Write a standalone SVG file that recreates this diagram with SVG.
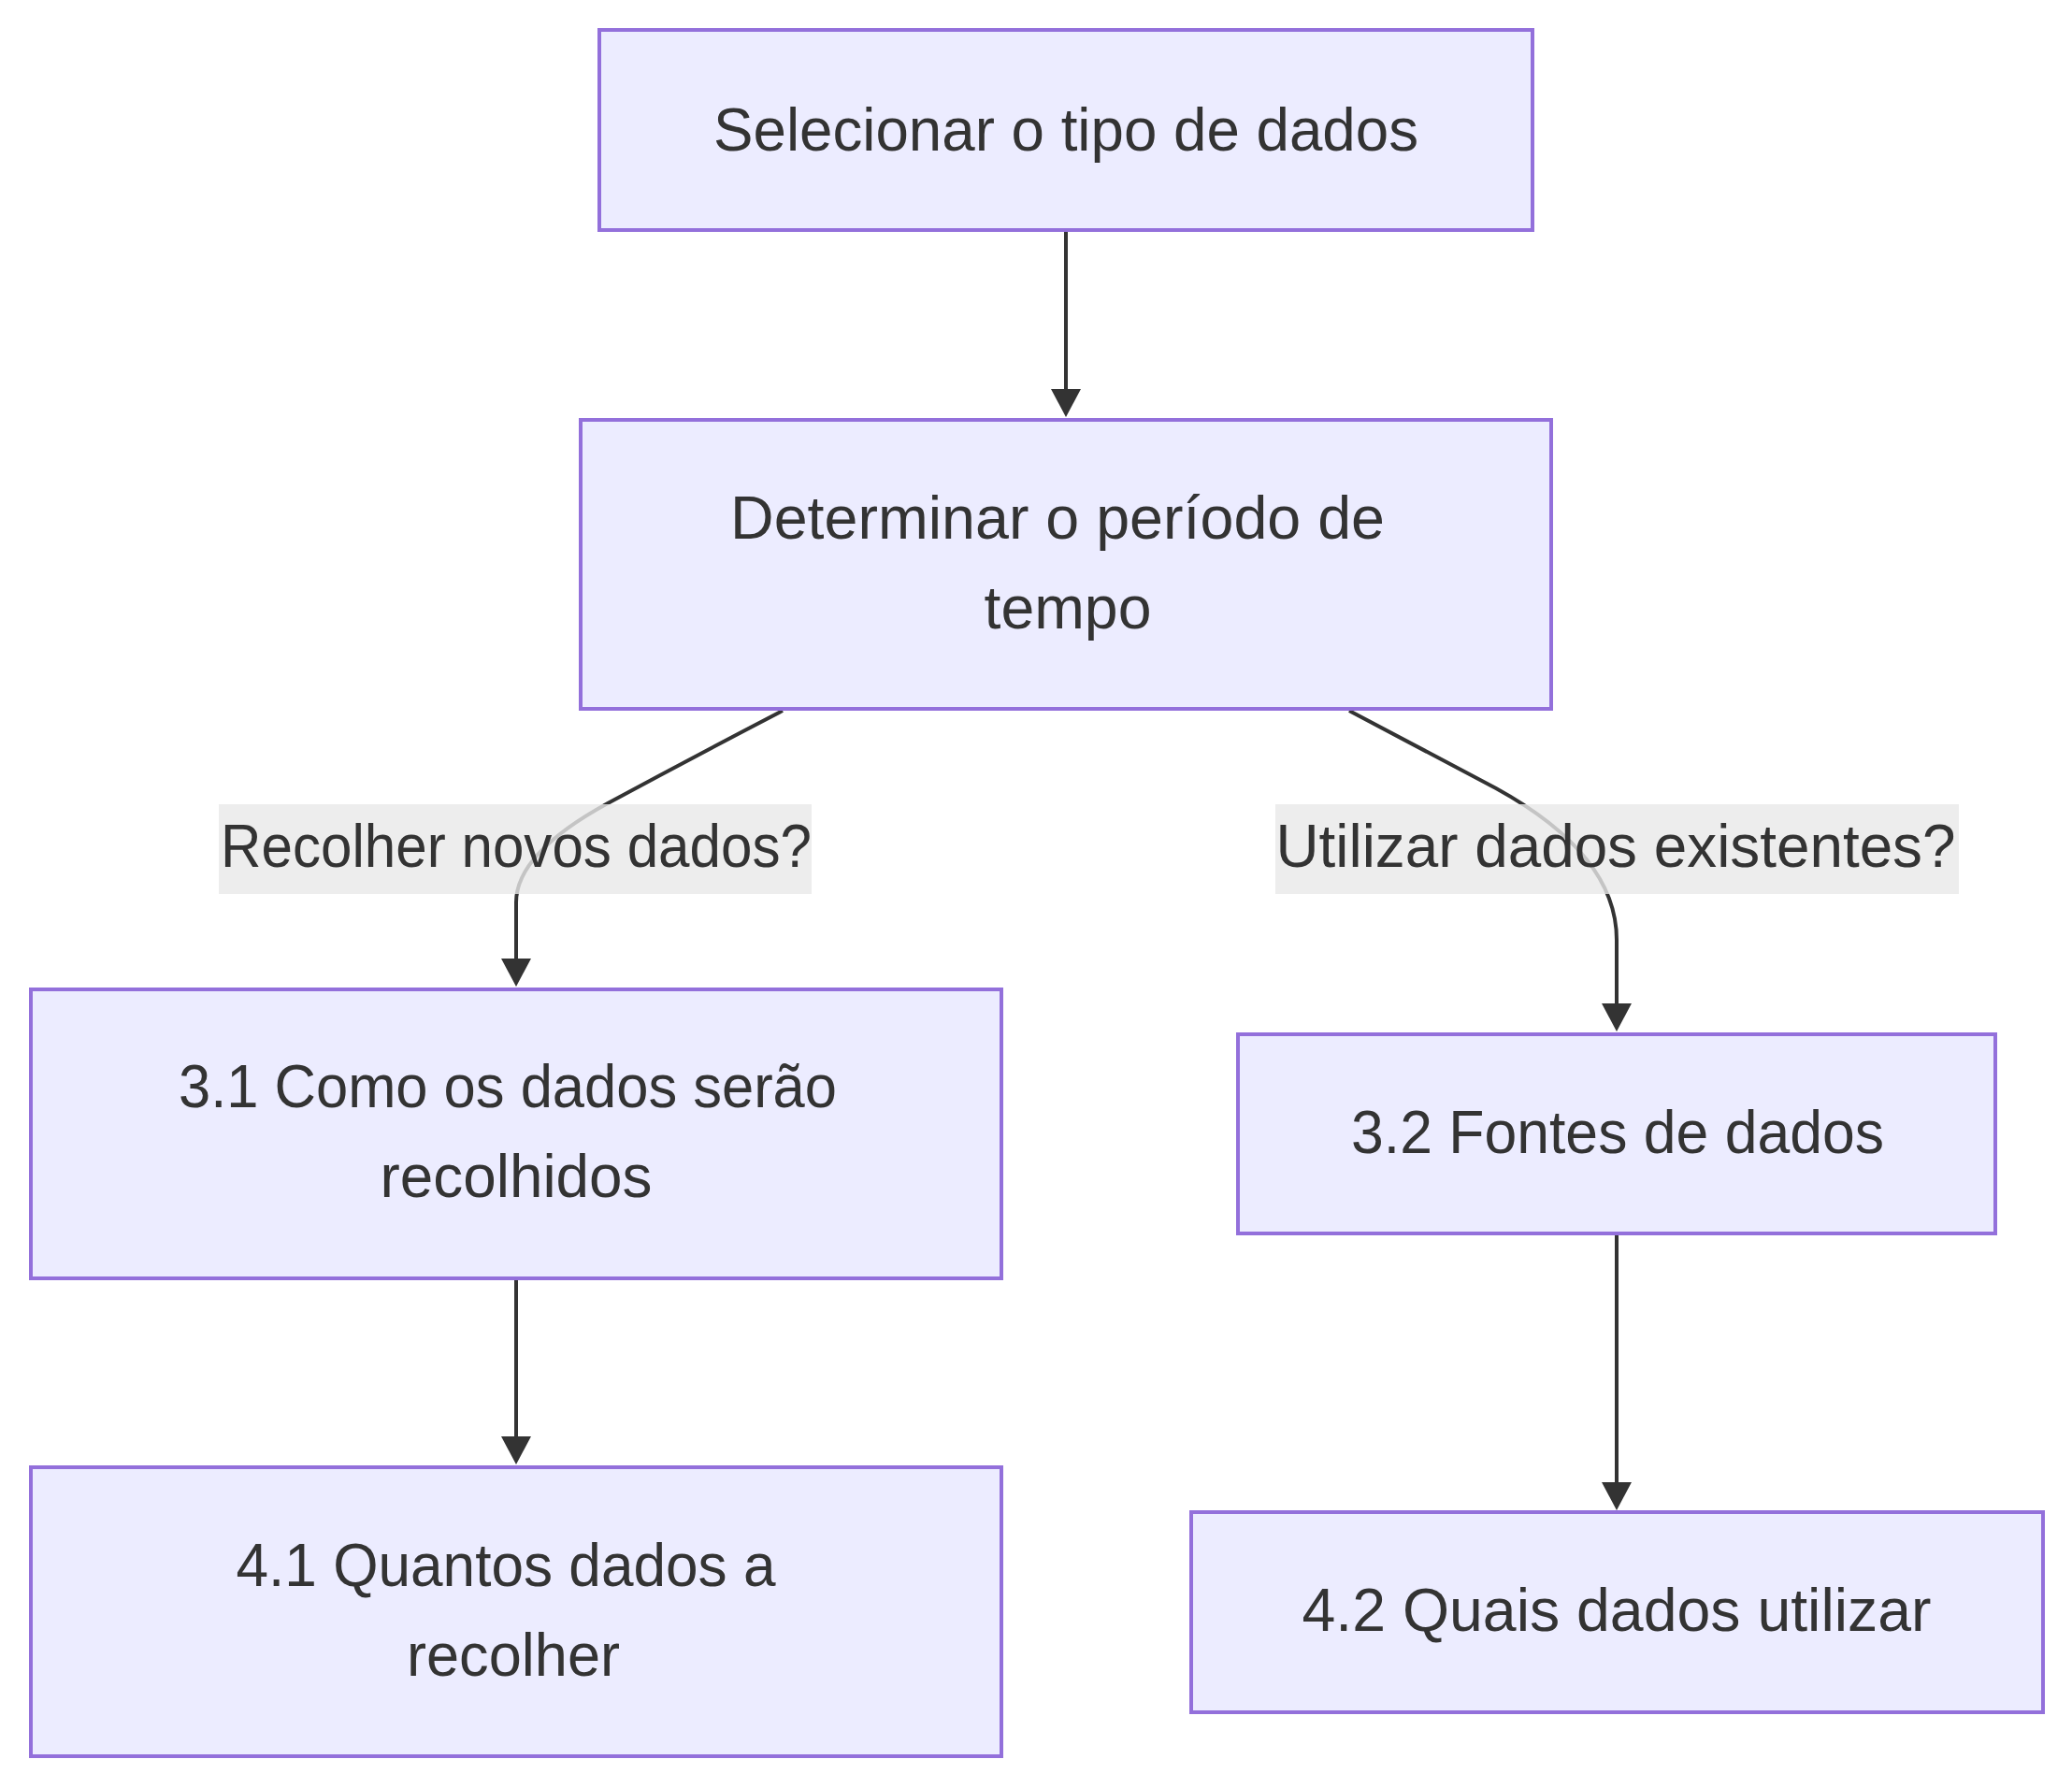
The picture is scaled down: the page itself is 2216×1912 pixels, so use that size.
<svg xmlns="http://www.w3.org/2000/svg" width="2216" height="1912" viewBox="0 0 2216 1912">
<style>
.node rect{fill:#ECECFF;stroke:#9370DB;stroke-width:4}
.t{font-family:"Liberation Sans",Arial,sans-serif;font-size:64px;fill:#333333;text-anchor:middle}
.edge{fill:none;stroke:#333333;stroke-width:4}
.lbl rect{fill:#e8e8e8;fill-opacity:0.8}
</style>
<defs>
<marker id="arrow" viewBox="0 0 30 32" markerUnits="userSpaceOnUse" markerWidth="30" markerHeight="32" refX="10" refY="16" orient="auto">
<path d="M0,0 L30,16 L0,32 z" fill="#333333"/>
</marker>
</defs>
<rect width="2216" height="1912" fill="#ffffff"/>
<g id="connectors">
<path class="edge" d="M1140,248 L1140,426" marker-end="url(#arrow)"/>
<path class="edge" d="M837,760 C760,800 700,832 650,859 C595,889 552,925 552,965 L552,1035" marker-end="url(#arrow)"/>
<path class="edge" d="M1443,760 L1600,843 C1680,887 1729,940 1729,1005 L1729,1083" marker-end="url(#arrow)"/>
<path class="edge" d="M552,1368 L552,1546" marker-end="url(#arrow)"/>
<path class="edge" d="M1729,1321 L1729,1595" marker-end="url(#arrow)"/>
</g>
<g id="edge-labels">
<g id="label-novos" class="lbl">
<rect x="234" y="860" width="634" height="96"/>
<text class="t" x="552" y="927" textLength="632" lengthAdjust="spacingAndGlyphs">Recolher novos dados?</text>
</g>
<g id="label-existentes" class="lbl">
<rect x="1364" y="860" width="731" height="96"/>
<text class="t" x="1728" y="927" textLength="727" lengthAdjust="spacingAndGlyphs">Utilizar dados existentes?</text>
</g>
</g>
<g id="node-selecionar" class="node">
<rect x="641" y="32" width="998" height="214"/>
<text class="t" x="1140" y="161" textLength="754" lengthAdjust="spacingAndGlyphs">Selecionar o tipo de dados</text>
</g>
<g id="node-determinar" class="node">
<rect x="621" y="449" width="1038" height="309"/>
<text class="t" x="1131" y="576" textLength="700" lengthAdjust="spacingAndGlyphs">Determinar o período de</text>
<text class="t" x="1142" y="672" textLength="179" lengthAdjust="spacingAndGlyphs">tempo</text>
</g>
<g id="node-3-1" class="node">
<rect x="33" y="1058" width="1038" height="309"/>
<text class="t" x="543" y="1184" textLength="704" lengthAdjust="spacingAndGlyphs">3.1 Como os dados serão</text>
<text class="t" x="552" y="1280" textLength="291" lengthAdjust="spacingAndGlyphs">recolhidos</text>
</g>
<g id="node-3-2" class="node">
<rect x="1324" y="1106" width="810" height="213"/>
<text class="t" x="1730" y="1233" textLength="570" lengthAdjust="spacingAndGlyphs">3.2 Fontes de dados</text>
</g>
<g id="node-4-1" class="node">
<rect x="33" y="1569" width="1038" height="309"/>
<text class="t" x="541" y="1696" textLength="577" lengthAdjust="spacingAndGlyphs">4.1 Quantos dados a</text>
<text class="t" x="549" y="1792" textLength="228" lengthAdjust="spacingAndGlyphs">recolher</text>
</g>
<g id="node-4-2" class="node">
<rect x="1274" y="1617" width="911" height="214"/>
<text class="t" x="1729" y="1744" textLength="673" lengthAdjust="spacingAndGlyphs">4.2 Quais dados utilizar</text>
</g>
</svg>
